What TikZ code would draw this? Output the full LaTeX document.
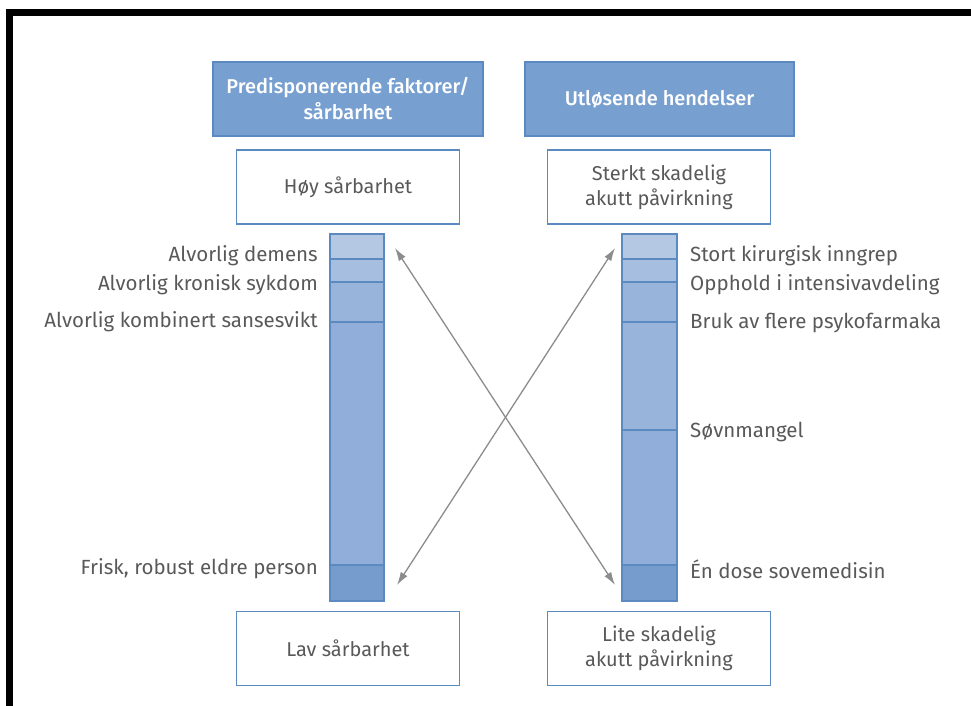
\documentclass[tikz,border=0pt]{standalone}
\usepackage{fontspec}
\setmainfont{Fira Sans}
\newfontfamily\hdrfont{Fira Sans Medium}
\usetikzlibrary{arrows.meta}
\definecolor{hdrblue}{HTML}{779FD0}
\definecolor{edgeblue}{HTML}{5B8AC0}
\definecolor{segA}{HTML}{B4C8E4}
\definecolor{segB}{HTML}{A6BEE0}
\definecolor{segC}{HTML}{99B4DB}
\definecolor{segD}{HTML}{90AED9}
\definecolor{segE}{HTML}{769CCD}
\definecolor{txtgray}{HTML}{595959}
\begin{document}
\begin{tikzpicture}[x=1pt, y=-1pt, >={Latex[length=13pt,width=8pt]},
  hdr/.style={fill=hdrblue, draw=edgeblue, line width=1.2pt, text=white,
    minimum height=74pt, align=center, font=\fontsize{20}{26}\hdrfont},
  lvl/.style={fill=white, draw=edgeblue, line width=1.6pt, text=txtgray,
    minimum width=223pt, minimum height=74pt, align=center, font=\fontsize{20}{25}\selectfont},
  lbl/.style={text=txtgray, inner sep=0pt, font=\fontsize{20.5}{24}\selectfont}]
  \useasboundingbox (0,0) rectangle (971,706);
  % outer frame, cut off at the right and bottom
  \draw[line width=7pt] (9.5,12.5) rectangle (1000,709.5);

  % column headers
  \node[hdr, minimum width=270pt] (pred) at (348,99) {Predisponerende faktorer/\\sårbarhet};
  \node[hdr, minimum width=269pt] (utl) at (659.5,99) {Utløsende hendelser};

  % end points of both scales
  \node[lvl] (hoy) at (348,187) {Høy sårbarhet};
  \node[lvl] (sterk) at (659,187) {Sterkt skadelig\\akutt påvirkning};
  \node[lvl] (lav) at (348,648.5) {Lav sårbarhet};
  \node[lvl] (lite) at (659,648.5) {Lite skadelig\\akutt påvirkning};

  % left bar: vulnerability
  \foreach \ya/\yb/\c in {234/259/segA, 259/282/segB, 282/322/segC, 322/565/segD, 565/601/segE} {
     \filldraw[fill=\c, draw=edgeblue, line width=1.2pt] (330,\ya) rectangle (384,\yb);
  }
  % right bar: triggering events
  \foreach \ya/\yb/\c in {234/259/segA, 259/282/segB, 282/322/segC, 322/430/segC, 430/565/segD, 565/601/segE} {
     \filldraw[fill=\c, draw=edgeblue, line width=1.2pt] (622,\ya) rectangle (677,\yb);
  }

  % labels beside the bars
  \node[lbl, anchor=east] (demens) at (318,256) {Alvorlig demens};
  \node[lbl, anchor=east] (kronisk) at (318,285) {Alvorlig kronisk sykdom};
  \node[lbl, anchor=east] (sanse) at (318,322) {Alvorlig kombinert sansesvikt};
  \node[lbl, anchor=east] (frisk) at (318,569) {Frisk, robust eldre person};
  \node[lbl, anchor=west] (kirurg) at (690,256) {Stort kirurgisk inngrep};
  \node[lbl, anchor=west] (intens) at (690,285) {Opphold i intensivavdeling};
  \node[lbl, anchor=west] (psyko) at (690,323) {Bruk av flere psykofarmaka};
  \node[lbl, anchor=west] (sovn) at (690,432) {Søvnmangel};
  \node[lbl, anchor=west] (dose) at (690,569) {Én dose sovemedisin};

  % crossing arrows
  \coordinate (lt) at (395,248);
  \coordinate (lb) at (397,585);
  \coordinate (rt) at (615,248);
  \coordinate (rb) at (615,585);
  \draw[<->, black!45, line width=1.3pt] (lt) -- (rb);
  \draw[<->, black!45, line width=1.3pt] (rt) -- (lb);
\end{tikzpicture}
\end{document}
